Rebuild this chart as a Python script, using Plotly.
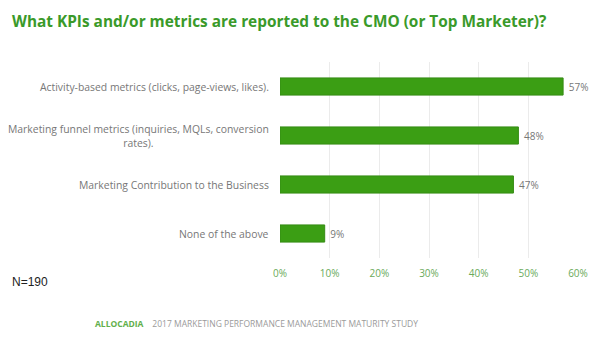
import plotly.graph_objects as go

categories = [
    "Activity-based metrics (clicks, page-views, likes).",
    "Marketing funnel metrics (inquiries, MQLs, conversion<br>rates).",
    "Marketing Contribution to the Business",
    "None of the above",
]
values = [57, 48, 47, 9]
tick_vals = [0, 10, 20, 30, 40, 50, 60]
tick_text = ["0%", "10%", "20%", "30%", "40%", "50%", "60%"]

W, H = 600, 354
L, R, T, B = 280, 20, 62, 96
ph = H - T - B
pw = W - L - R

def py(p):
    return (H - B - p) / ph

def px(p):
    return (p - L) / pw

FONT = "Open Sans, Arial, sans-serif"
GREEN = "#3b9e14"

fig = go.Figure()
fig.add_trace(go.Bar(
    y=list(range(len(categories))),
    x=values,
    orientation="h",
    width=0.35,
    marker=dict(color=GREEN, line=dict(color="#358c14", width=1)),
    text=[f"&nbsp;{v}%" for v in values],
    textposition="outside",
    textfont=dict(family=FONT, size=10, color="#777777"),
    cliponaxis=False,
    hoverinfo="skip",
))

annotations = []
for i, c in enumerate(categories):
    annotations.append(dict(
        x=0, xref="paper", y=i, yref="y", text=c, showarrow=False,
        xanchor="right", yanchor="middle", align="center", xshift=-9,
        font=dict(family=FONT, size=10.4, color="#777777"),
    ))
annotations.append(dict(
    x=px(8), xref="paper", y=py(282), yref="paper", text="N=190", showarrow=False,
    xanchor="left", yanchor="middle",
    font=dict(family="Liberation Sans, Arial", size=12, color="#222222"),
))
annotations.append(dict(
    x=px(92), xref="paper", y=py(323), yref="paper",
    text="<span style='color:#62b04c'><b>ALLOCADIA</b></span>&nbsp;&nbsp;&nbsp;&nbsp;"
         "<span style='color:#9a9a9a'>2017 MARKETING PERFORMANCE MANAGEMENT MATURITY STUDY</span>",
    showarrow=False, xanchor="left", yanchor="middle",
    font=dict(family=FONT, size=8.5),
))

fig.update_layout(
    width=W, height=H,
    margin=dict(l=L, r=R, t=T, b=B),
    paper_bgcolor="white", plot_bgcolor="white",
    title=dict(
        text="<b>What KPIs and/or metrics are reported to the CMO (or Top Marketer)?</b>",
        x=12 / W, xanchor="left", y=1 - 22 / H, yanchor="middle",
        font=dict(family=FONT, size=15.4, color="#3a9a2a"),
    ),
    xaxis=dict(
        range=[0, 60], tickvals=tick_vals, ticktext=tick_text,
        showgrid=True, gridcolor="#ebebeb", gridwidth=1,
        zeroline=False, showline=False, ticks="",
        tickfont=dict(family=FONT, size=10, color="#6aaa5a"),
        ticklabelstandoff=8,
    ),
    yaxis=dict(
        range=[3.5, -0.5], showticklabels=False, showgrid=False,
        zeroline=False, showline=False,
    ),
    annotations=annotations,
    showlegend=False,
)

fig.write_html("out.html")
